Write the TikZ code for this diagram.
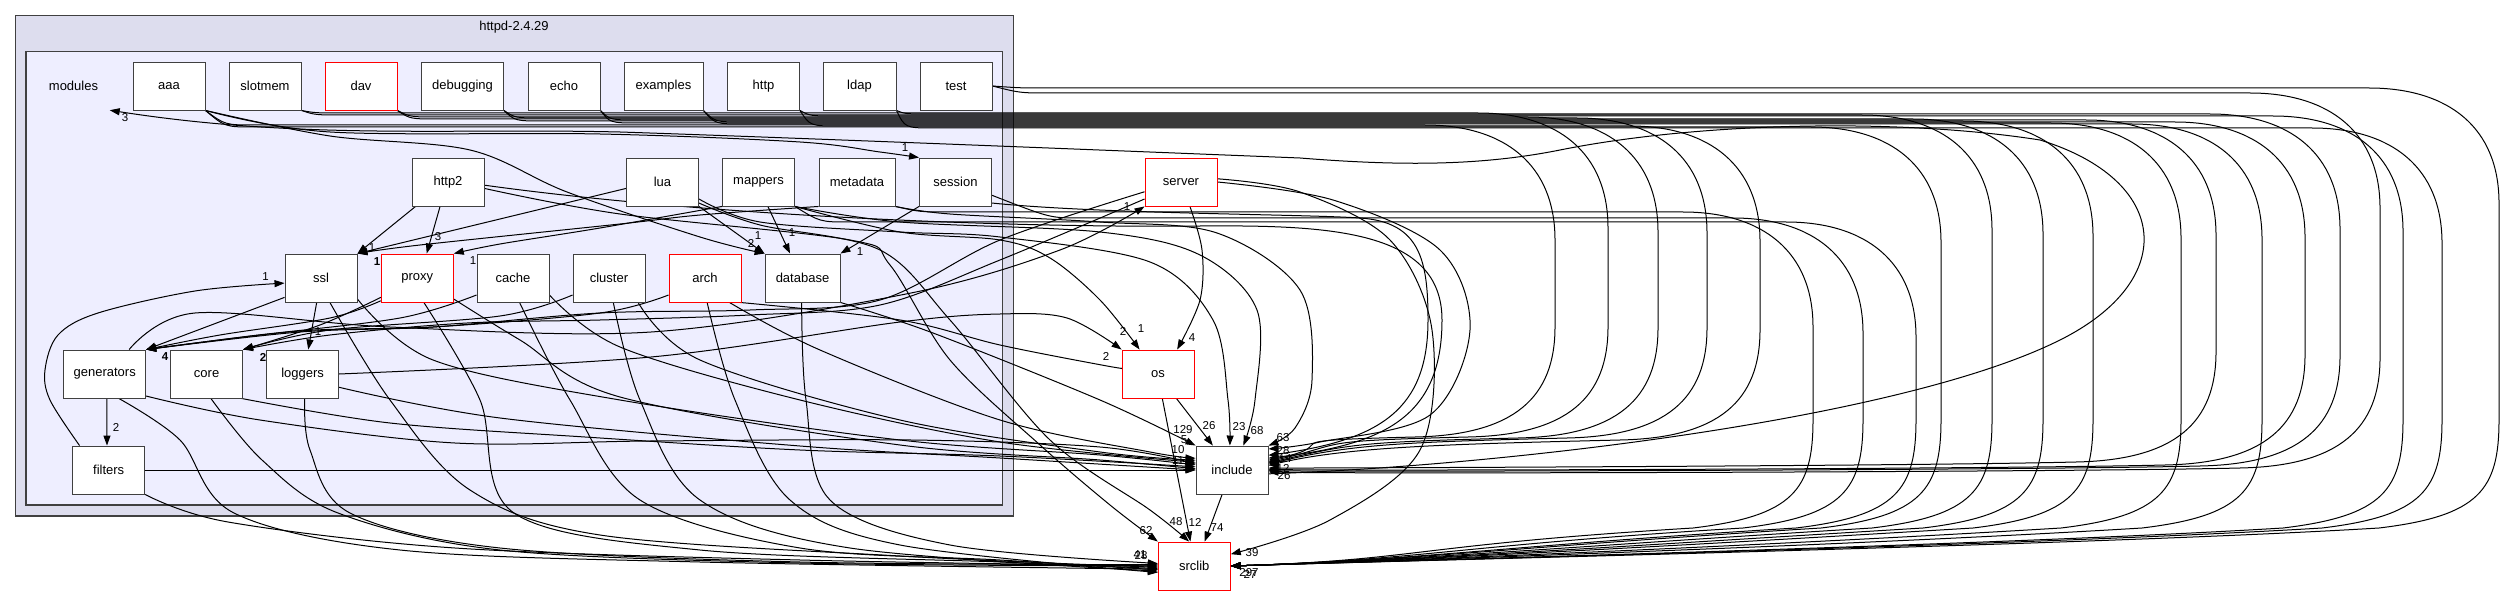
\documentclass[tikz,border=0pt]{standalone}
\usepackage{fontspec}
\setmainfont{Liberation Sans}
\usetikzlibrary{arrows.meta}
\definecolor{boxgray}{HTML}{404040}
\definecolor{clusterA}{HTML}{DDDDEE}
\definecolor{clusterB}{HTML}{EEEEFF}
\pgfdeclarelayer{bg}
\pgfdeclarelayer{edgel}
\pgfsetlayers{bg,edgel,main}
\newcommand{\nfont}{\fontsize{13}{15}\selectfont}
\newcommand{\lfont}{\fontsize{11.5}{13}\selectfont}
% edge to srclib around the right side: #1 source, #2 x where bundle is reached, #3 bundle y, #4 descent x
\newcommand{\SR}[4]{\draw[dep] (#1) .. controls ({#2-30},#3) .. (#2,#3) -- ({#4-130},#3) .. controls ({#4-50},#3) and (#4,{#3+40}) .. (#4,{#3+115}) -- (#4,420) .. controls (#4,490) and ({#4-20},516) .. ({#4-120},528) .. controls ({#4-400},545) and (1420,560) .. (srclib.east);}
% edge to include around the right side: #5 y of return sweep, #6 target anchor
\newcommand{\IR}[6]{\draw[dep] (#1) .. controls ({#2-30},#3) .. (#2,#3) -- ({#4-130},#3) .. controls ({#4-50},#3) and (#4,{#3+40}) .. (#4,{#3+115}) -- (#4,{#5-110}) .. controls (#4,{#5-40}) and ({#4-40},{#5-2}) .. ({#4-140},#5) .. controls ({#4-300},{#5+4}) and (1350,{#5+6}) .. (#6);}
\newcommand{\PE}[1]{\draw[dep] plot[smooth,tension=0.55] coordinates {#1};}
\begin{document}
\begin{tikzpicture}[x=1pt,y=-1pt,
  box/.style={draw=boxgray,fill=white,line width=0.9pt,minimum width=72pt,minimum height=48pt,inner sep=0pt,font=\nfont},
  redbox/.style={box,draw=red},
  dep/.style={draw=black,line width=1pt,-{Triangle[length=10pt,width=7pt]}},
  lbl/.style={inner sep=0pt,font=\lfont},
  clusterline/.style={draw=boxgray,line width=1.1pt}]
\useasboundingbox (0,0) rectangle (2508,596);
% ---------- nodes ----------
\node[inner sep=0pt,font=\nfont] (title) at (514,27) {httpd-2.4.29};
\node[inner sep=0pt,minimum width=72pt,minimum height=48pt,font=\nfont] (modules) at (73.5,86) {modules};
\node[box] (aaa) at (169,86) {aaa};
\node[box] (slotmem) at (265,86) {slotmem};
\node[redbox] (dav) at (361,86) {dav};
\node[box,minimum width=82pt] (debugging) at (462.5,86) {debugging};
\node[box] (echo) at (564,86) {echo};
\node[box,minimum width=79pt] (examples) at (663.5,86) {examples};
\node[box] (http) at (763.5,86) {http};
\node[box,minimum width=73pt] (ldap) at (859.5,86) {ldap};
\node[box] (test) at (956,86) {test};
\node[box] (http2) at (448,182) {http2};
\node[box] (lua) at (662.5,182) {lua};
\node[box] (mappers) at (758.5,182) {mappers};
\node[box,minimum width=76pt] (metadata) at (857,182) {metadata};
\node[box] (session) at (955.5,182) {session};
\node[redbox] (server) at (1181,182) {server};
\node[box] (ssl) at (321,278) {ssl};
\node[redbox] (proxy) at (417.3,278) {proxy};
\node[box] (cache) at (513,278) {cache};
\node[box] (cluster) at (609,278) {cluster};
\node[redbox] (arch) at (705,278) {arch};
\node[box,minimum width=75pt] (database) at (802.5,278) {database};
\node[box,minimum width=82pt] (generators) at (104.7,374) {generators};
\node[box] (core) at (206.6,374) {core};
\node[box] (loggers) at (302.6,374) {loggers};
\node[redbox] (os) at (1158,374) {os};
\node[box] (filters) at (108.7,470) {filters};
\node[box] (include) at (1232,470) {include};
\node[redbox] (srclib) at (1194.3,566) {srclib};
% ---------- clusters ----------
\begin{pgfonlayer}{bg}
\fill[white] (0,0) rectangle (2508,596);
\draw[clusterline,fill=clusterA] (15.6,15.7) rectangle (1013.3,516);
\draw[clusterline,fill=clusterB] (26,51.7) rectangle (1002.6,505);
\end{pgfonlayer}
% ---------- edges ----------
\begin{pgfonlayer}{edgel}
% top row, around the right side
\SR{aaa.south east}{255}{127}{1941}
\IR{aaa.south east}{255}{125}{1555}{437}{include.15}
\SR{slotmem.south east}{345}{115}{1992}
\IR{slotmem.south east}{345}{113}{1608}{437}{include.13}
\SR{dav.south east}{440}{119}{2043}
\IR{dav.south east}{440}{117}{1658}{438}{include.11}
\SR{debugging.south east}{545}{121}{2093}
\IR{debugging.south east}{545}{118}{1707}{438}{include.9}
\SR{echo.south east}{640}{123}{2181}
\IR{echo.south east}{640}{120}{2216}{462}{include.3}
\SR{examples.south east}{745}{124}{2262}
\IR{examples.south east}{745}{122}{2305}{465}{include.1}
\SR{http.south east}{840}{116}{2403}
\IR{http.south east}{840}{126}{1760}{440}{include.7}
\SR{ldap.south east}{935}{128}{2442}
\IR{ldap.south east}{935}{114}{2340}{466}{include.-1}
\SR{test.east}{1050}{88}{2499}
\IR{test.east}{1050}{93}{2380}{468}{include.-3}
% aaa
\PE{(aaa.south east) (330,132) (600,134) (800,142) (880,152) (session.north west)}
\PE{(aaa.south east) (330,136) (470,150) (567,192) (700,237) (database.north west)}
% include -> modules
\draw[dep] (include.-6) .. controls (1500,466) and (1900,420) .. (2060,340) .. controls (2180,280) and (2170,180) .. (2040,140) .. controls (1900,118) and (1700,122) .. (1560,150) .. controls (1480,166) and (1400,166) .. (1300,158) .. controls (1100,150) and (800,138) .. (620,132) .. controls (450,128) and (300,140) .. (modules.south east);
% http2
\draw[dep] (http2.217) -- (ssl.north east);
\draw[dep] (http2.252) -- (proxy.69);
\PE{(http2.-10) (620,214) (850,240) (890,265) (950,360) (1040,445) (1110,505) (srclib.north west)}
\draw[dep] (http2.-5) .. controls (700,215) and (1000,228) .. (1200,226) .. controls (1330,225) and (1442,230) .. (1442,320) .. controls (1442,420) and (1380,445) .. (include.18);
% lua
\draw[dep] (lua.190) -- (ssl.north east);
\draw[dep] (lua.south east) -- (database.north west);
\PE{(lua.-25) (760,222) (900,232) (1000,237) (1150,262) (1213,320) (1228,400) (include.95)}
\PE{(lua.-30) (760,225) (880,250) (950,320) (1050,440) (1150,510) (srclib.102)}
% mappers
\PE{(mappers.south west) (600,228) (500,244) (proxy.north east)}
\draw[dep] (mappers.-69) -- (database.117);
\PE{(mappers.south east) (900,222) (1100,232) (1200,255) (1257,310) (1255,400) (include.65)}
\SR{mappers.south east}{850}{222}{1916}
\PE{(mappers.south east) (900,232) (1000,240) (1050,258) (1100,300) (os.127)}
% metadata
\PE{(metadata.south west) (700,215) (620,224) (420,245) (ssl.north east)}
\PE{(metadata.south east) (950,214) (1100,222) (1217,233) (1300,290) (1312,380) (1295,428) (include.north east)}
\SR{metadata.south east}{950}{212}{1813}
% session
\draw[dep] (session.south west) -- (database.north east);
\SR{session.-20}{1080}{218}{1863}
\draw[dep] (session.-30) .. controls (1100,214) and (1300,214) .. (1360,218) .. controls (1420,222) and (1428,260) .. (1428,320) .. controls (1428,410) and (1380,440) .. (include.22);
% server
\PE{(server.-70) (1202,250) (1200,300) (os.52)}
\PE{(server.195) (1000,240) (880,300) (750,310) (600,313) (433,327) (300,332) (generators.north east)}
\PE{(server.205) (1000,260) (880,305) (750,315) (600,320) (467,323) (330,335) (core.north east)}
\PE{(server.east) (1333,200) (1440,250) (1470,330) (1430,415) (1320,442) (include.30)}
\PE{(server.5) (1300,192) (1390,240) (1432,330) (1420,450) (1330,520) (srclib.18)}
% os, include
\draw[dep] (os.-53) -- (include.128);
\draw[dep] (os.-80) -- (srclib.99);
\draw[dep] (include.-112) -- (srclib.67);
% generators, filters
\draw[dep] (generators.-85) -- (filters.94);
\PE{(filters.140) (50,400) (45,370) (58,335) (98,313) (195,291) (ssl.188)}
\draw[dep] (filters.east) -- (include.west);
\PE{(filters.south east) (228,522) (455,548) (800,560) (srclib.west)}
\PE{(generators.-28) (260,420) (455,443) (650,441) (911,440) (1100,447) (include.170)}
\PE{(generators.-60) (180,440) (234,513) (400,550) (700,562) (srclib.185)}
\PE{(generators.45) (195,313) (390,327) (651,332) (911,293) (1060,250) (server.south west)}
% core, loggers
\PE{(core.-35) (390,423) (585,437) (800,450) (1000,456) (include.175)}
\PE{(core.-80) (262,460) (338,513) (500,550) (800,563) (srclib.180)}
\PE{(loggers.east) (651,357) (900,322) (1000,314) (1067,318) (os.north west)}
\PE{(loggers.-20) (500,418) (800,446) (1000,458) (include.180)}
\PE{(loggers.-85) (310,450) (350,513) (500,548) (800,562) (srclib.178)}
% ssl
\draw[dep] (ssl.208) -- (generators.north east);
\draw[dep] (ssl.-100) -- (loggers.77);
\PE{(ssl.-30) (433,360) (620,400) (900,440) (1100,455) (include.172)}
\PE{(ssl.-70) (390,400) (470,490) (600,535) (900,556) (srclib.182)}
% proxy
\PE{(proxy.208) (320,325) (core.north east)}
\PE{(proxy.212) (330,318) (220,335) (generators.north east)}
\PE{(proxy.-30) (520,340) (620,397) (900,445) (1100,460) (include.178)}
\PE{(proxy.-75) (480,400) (514,513) (700,550) (1000,562) (srclib.184)}
% cache
\PE{(cache.205) (400,318) (250,336) (generators.north east)}
\PE{(cache.-25) (620,347) (800,400) (1000,442) (include.168)}
\PE{(cache.-75) (570,400) (640,500) (800,548) (1000,560) (srclib.186)}
% cluster
\PE{(cluster.205) (500,316) (330,330) (core.north east)}
\PE{(cluster.-40) (700,360) (900,420) (1100,452) (include.165)}
\PE{(cluster.-80) (640,400) (700,500) (850,548) (srclib.188)}
% arch
\PE{(arch.205) (600,313) (433,327) (300,331) (generators.north east)}
\PE{(arch.-35) (900,320) (1000,345) (1107,366) (os.170)}
\PE{(arch.-45) (820,350) (1000,420) (1150,452) (include.162)}
\PE{(arch.-85) (735,400) (790,500) (900,545) (srclib.190)}
% database
\PE{(database.-92) (806,400) (830,500) (950,545) (srclib.176)}
\PE{(database.south east) (933,333) (1100,400) (include.north west)}
\end{pgfonlayer}
% ---------- edge labels ----------
\node[lbl] (l1) at (125,118) {3};
\node[lbl] (l2) at (905,148) {1};
\node[lbl] (l3) at (751,243) {2};
\node[lbl] (l4) at (758,236) {1};
\node[lbl] (l5) at (792,233) {1};
\node[lbl] (l6) at (860,252) {1};
\node[lbl] (l7) at (372,248) {1};
\node[lbl,font=\lfont\bfseries] (l8) at (377,262) {1};
\node[lbl] (l9) at (438,237) {3};
\node[lbl] (l10) at (473,261) {1};
\node[lbl] (l11) at (265.5,276.7) {1};
\node[lbl] (l12) at (318,332) {1};
\node[lbl,font=\lfont\bfseries] (l13) at (165,357) {4};
\node[lbl,font=\lfont\bfseries] (l14) at (263,357) {2};
\node[lbl] (l15) at (116,427) {2};
\node[lbl] (l16) at (1127,207) {1};
\node[lbl] (l17) at (1123,331) {2};
\node[lbl] (l18) at (1141,329) {1};
\node[lbl] (l19) at (1192,338) {4};
\node[lbl] (l20) at (1106,356) {2};
\node[lbl] (l21) at (1183,430) {129};
\node[lbl] (l22) at (1209,426) {26};
\node[lbl] (l23) at (1239,427) {23};
\node[lbl] (l24) at (1257,431) {68};
\node[lbl] (l25) at (1283,438) {63};
\node[lbl] (l26) at (1184,440) {5};
\node[lbl] (l27) at (1178,450) {10};
\node[lbl] (l28) at (1178,461) {11};
\node[lbl] (l29) at (1283,451) {28};
\node[lbl] (l30) at (1285,459) {14};
\node[lbl] (l31) at (1283,468) {12};
\node[lbl] (l32) at (1284,476) {26};
\node[lbl] (l33) at (1146,531) {62};
\node[lbl] (l34) at (1176,522) {48};
\node[lbl] (l35) at (1195,522) {12};
\node[lbl] (l36) at (1217,528) {74};
\node[lbl] (l37) at (1252,553) {39};
\node[lbl] (l38) at (1140,555) {41};
\node[lbl] (l39) at (1141,556) {28};
\node[lbl] (l40) at (1249,573) {297};
\node[lbl] (l41) at (1250,574) {27};
\end{tikzpicture}
\end{document}
